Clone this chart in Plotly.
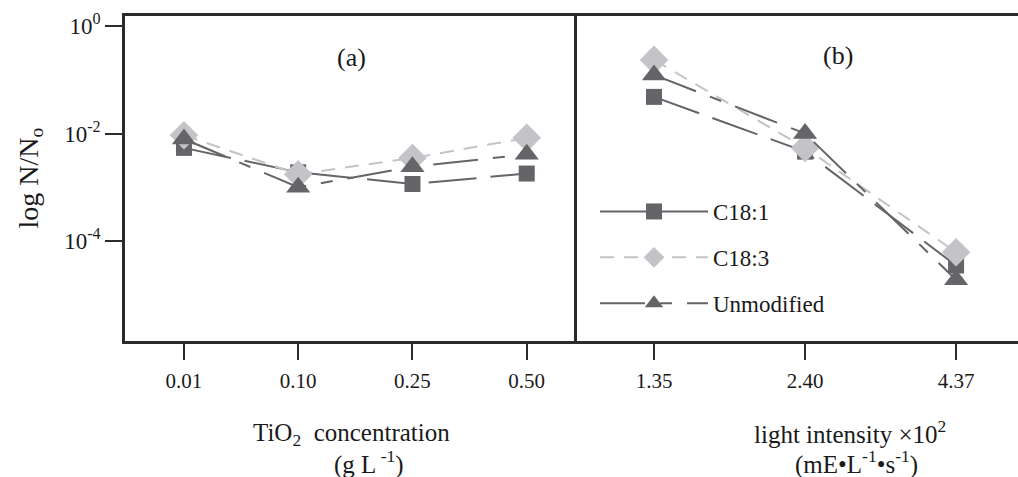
import plotly.graph_objects as go

# ---- data ----
tio2_cats = ["0.01", "0.10", "0.25", "0.50"]
light_cats = ["1.35", "2.40", "4.37"]

series_names = ["C18:1", "C18:3", "Unmodified"]

# panel (a): N/No vs TiO2 concentration
a_c181 = [5.4e-3, 1.9e-3, 1.15e-3, 1.8e-3]
a_c183 = [9.3e-3, 1.75e-3, 3.5e-3, 8.3e-3]
a_unmod = [7.9e-3, 1.0e-3, 2.4e-3, 4.1e-3]

# panel (b): N/No vs light intensity
b_c181 = [4.8e-2, 4.6e-3, 3.5e-5]
b_c183 = [2.34e-1, 5.4e-3, 6.2e-5]
b_unmod = [1.23e-1, 1.0e-2, 1.9e-5]

y_tickvals = [1, 1e-2, 1e-4]
y_ticktext = ["10<sup>0</sup>", "10<sup>-2</sup>", "10<sup>-4</sup>"]

# ---- styles ----
DARK = "rgb(100,100,105)"
LIGHT = "rgb(195,195,200)"
FONT = "Liberation Serif"
AXC = "#2b2b2b"
TXT = "#1a1a1a"

styles = {
    "C18:1": dict(color=DARK, dash="48px,14px", symbol="square", size=16),
    "C18:3": dict(color=LIGHT, dash="14px,10px", symbol="diamond", size=22),
    "Unmodified": dict(color=DARK, dash="45px,15px,12px,15px", symbol="triangle-up", size=21),
}

fig = go.Figure()

panel_a = {"C18:1": a_c181, "C18:3": a_c183, "Unmodified": a_unmod}
panel_b = {"C18:1": b_c181, "C18:3": b_c183, "Unmodified": b_unmod}

for name in series_names:
    st = styles[name]
    fig.add_trace(go.Scatter(
        x=tio2_cats, y=panel_a[name], mode="lines+markers", name=name,
        xaxis="x", yaxis="y", legendgroup=name, showlegend=False,
        line=dict(color=st["color"], width=2, dash=st["dash"]),
        marker=dict(symbol=st["symbol"], size=st["size"], color=st["color"]),
    ))
for name in series_names:
    st = styles[name]
    fig.add_trace(go.Scatter(
        x=light_cats, y=panel_b[name], mode="lines+markers", name=name,
        xaxis="x2", yaxis="y2", legendgroup=name, showlegend=True,
        line=dict(color=st["color"], width=2, dash=st["dash"]),
        marker=dict(symbol=st["symbol"], size=st["size"], color=st["color"]),
    ))

split = (577 - 125) / 893

axis_common = dict(showgrid=False, zeroline=False, linecolor=AXC, linewidth=2.5)
xtick = dict(ticks="outside", ticklen=16, tickwidth=2, tickcolor=AXC,
             tickfont=dict(size=21, family=FONT, color=TXT), ticklabelstandoff=3)

fig.update_layout(
    width=1018, height=477,
    margin=dict(l=125, r=0, t=16, b=136),
    paper_bgcolor="white", plot_bgcolor="white",
    font=dict(family=FONT, color=TXT),
    xaxis=dict(domain=[0, split], type="category", range=[-0.516, 3.44],
               showline=True, mirror=True, anchor="y", **xtick, **axis_common),
    xaxis2=dict(domain=[split, 1], type="category", range=[-0.51, 2.41],
                showline=True, mirror=True, anchor="y2", **xtick, **axis_common),
    yaxis=dict(type="log", range=[-5.86, 0.186], tickvals=y_tickvals, ticktext=y_ticktext,
               ticks="outside", ticklen=17, tickwidth=2, tickcolor=AXC,
               tickfont=dict(size=23, family=FONT, color=TXT), showline=True, mirror=False,
               anchor="x", **axis_common),
    yaxis2=dict(type="log", range=[-5.86, 0.186], matches="y", showticklabels=False,
                ticks="", showline=True, mirror=False, anchor="x2", **axis_common),
    legend=dict(x=(595 - 125) / 893, xanchor="left", y=(341 - 190) / 325, yanchor="top",
                font=dict(size=23, family=FONT, color=TXT), bgcolor="rgba(0,0,0,0)",
                tracegroupgap=13, itemwidth=108),
    showlegend=True,
)

title_font = dict(family=FONT, size=25, color=TXT)
panel_font = dict(family=FONT, size=26, color=TXT)
fig.add_annotation(text="(a)", xref="paper", yref="paper", x=split / 2, y=(341 - 57) / 325,
                   xanchor="center", yanchor="middle", showarrow=False, font=panel_font)
fig.add_annotation(text="(b)", xref="x2", yref="paper", x=1.22, y=(341 - 55) / 325,
                   xanchor="center", yanchor="middle", showarrow=False, font=panel_font)
fig.add_annotation(text="TiO<sub>2</sub>  concentration", xref="paper", yref="paper",
                   x=split / 2, y=-(434 - 341) / 325, xanchor="center", yanchor="middle",
                   showarrow=False, font=title_font)
fig.add_annotation(text="(g L<sup> -1</sup>)", xref="paper", yref="paper",
                   x=split / 2 + 0.02, y=-(462 - 341) / 325, xanchor="center", yanchor="middle",
                   showarrow=False, font=title_font)
fig.add_annotation(text="light intensity \u00d710<sup>2</sup>", xref="x2", yref="paper",
                   x=1.30, y=-(432 - 341) / 325, xanchor="center", yanchor="middle",
                   showarrow=False, font=title_font)
fig.add_annotation(text="(mE\u2022L<sup>-1</sup>\u2022s<sup>-1</sup>)", xref="x2", yref="paper",
                   x=1.34, y=-(462 - 341) / 325, xanchor="center", yanchor="middle",
                   showarrow=False, font=title_font)
fig.add_annotation(text="log N/N<sub>o</sub>", xref="paper", yref="paper",
                   x=-(125 - 30) / 893, y=0.5, xanchor="center", yanchor="middle",
                   textangle=-90, showarrow=False, font=dict(family=FONT, size=28, color=TXT))

fig.write_html(
    "out.html",
    config={"displayModeBar": False},
    post_script="document.body.style.margin='0';document.body.style.padding='0';"
                "document.body.style.overflow='hidden';",
)
